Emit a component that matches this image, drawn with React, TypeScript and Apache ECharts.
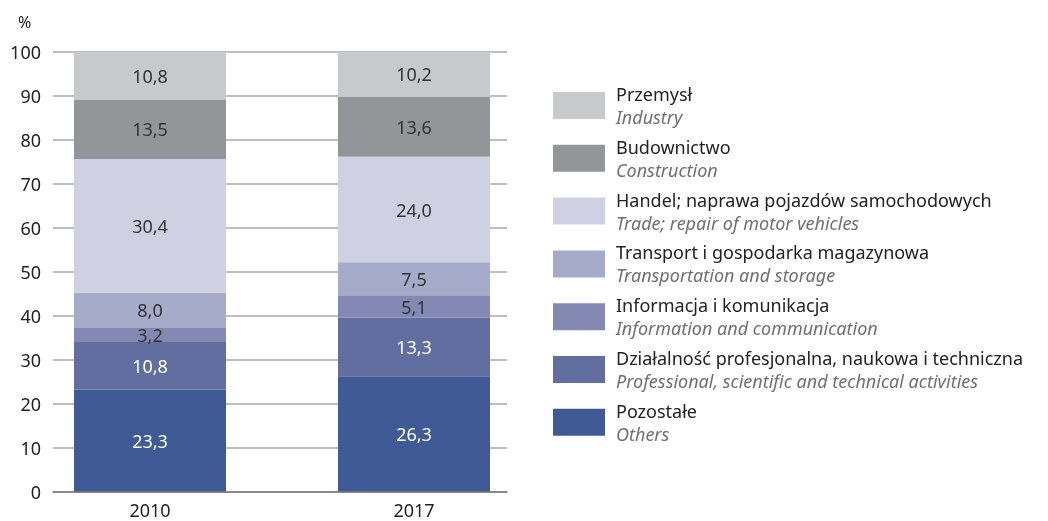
import React, { useEffect, useRef } from "react";
import * as echarts from "echarts";

const categories = ["2010", "2017"];
const yTicks = [0, 10, 20, 30, 40, 50, 60, 70, 80, 90, 100];

// bottom-to-top stacking order
const seriesNamesPl = [
  "Pozostałe",
  "Działalność profesjonalna, naukowa i techniczna",
  "Informacja i komunikacja",
  "Transport i gospodarka magazynowa",
  "Handel; naprawa pojazdów samochodowych",
  "Budownictwo",
  "Przemysł",
];
const seriesNamesEn = [
  "Others",
  "Professional, scientific and technical activities",
  "Information and communication",
  "Transportation and storage",
  "Trade; repair of motor vehicles",
  "Construction",
  "Industry",
];
const seriesColors = ["#3f5a94", "#616e9f", "#8389b2", "#a6abc9", "#cfd1e3", "#949598", "#c8c9cb"];
const labelColors = ["#ffffff", "#ffffff", "#333333", "#333333", "#333333", "#333333", "#333333"];

const pozostale = [23.3, 26.3];
const dzialalnosc = [10.8, 13.3];
const informacja = [3.2, 5.1];
const transport = [8.0, 7.5];
const handel = [30.4, 24.0];
const budownictwo = [13.5, 13.6];
const przemysl = [10.8, 10.2];
const seriesValues = [pozostale, dzialalnosc, informacja, transport, handel, budownictwo, przemysl];

const FONT = "'Noto Sans', sans-serif";

export default function App() {
  const ref = useRef<HTMLDivElement>(null);
  useEffect(() => {
    if (!ref.current) return;
    const chart = echarts.init(ref.current, undefined, { renderer: "svg" });

    const legendGraphics: any[] = [];
    const order = [6, 5, 4, 3, 2, 1, 0];
    order.forEach((si, i) => {
      const top = 92 + i * 52.8;
      legendGraphics.push({
        type: "rect",
        shape: { x: 553, y: top, width: 52, height: 27 },
        style: { fill: seriesColors[si] },
      });
      legendGraphics.push({
        type: "text",
        x: 616,
        y: top + 13.5,
        style: {
          text: `{a|${seriesNamesPl[si]}}\n{b|${seriesNamesEn[si]}}`,
          verticalAlign: "middle",
          rich: {
            a: { fill: "#222222", fontSize: 18, fontFamily: FONT, lineHeight: 23 },
            b: { fill: "#6f6f6f", fontSize: 18, fontFamily: FONT, fontStyle: "italic", lineHeight: 23 },
          },
        },
      });
    });

    chart.setOption({
      animation: false,
      textStyle: { fontFamily: FONT },
      grid: [
        { left: 53, width: 454, top: 52, bottom: 29 },
        { left: 18, width: 528, top: 52, bottom: 29 },
      ],
      xAxis: [
        {
          gridIndex: 0,
          type: "category",
          data: ["", ""],
          z: 5,
          axisLine: { show: true, lineStyle: { color: "#7a7a7a", width: 1.5 } },
          axisTick: { show: false },
          axisLabel: { show: false },
        },
        {
          gridIndex: 1,
          type: "category",
          data: categories,
          axisLine: { show: false },
          axisTick: { show: false },
          axisLabel: { color: "#222222", fontSize: 18, fontFamily: FONT, margin: 9 },
        },
      ],
      yAxis: [
        {
          gridIndex: 0,
          type: "value",
          min: yTicks[0],
          max: yTicks[yTicks.length - 1],
          interval: 10,
          axisLine: { show: false },
          axisTick: { show: false },
          axisLabel: { color: "#222222", fontSize: 18, fontFamily: FONT, margin: 12 },
          splitLine: { show: true, lineStyle: { color: "#a8a8a8", width: 1.5 } },
        },
        {
          gridIndex: 1,
          type: "value",
          min: 0,
          max: 100,
          show: false,
          splitLine: { show: false },
        },
      ],
      series: seriesValues.map((vals, si) => ({
        name: seriesNamesPl[si],
        type: "bar",
        stack: "total",
        xAxisIndex: 1,
        yAxisIndex: 1,
        barWidth: 152,
        data: vals,
        itemStyle: { color: seriesColors[si] },
        label: {
          show: true,
          position: "inside",
          color: labelColors[si],
          fontSize: 18,
          fontFamily: FONT,
          formatter: (p: any) => Number(p.value).toFixed(1).replace(".", ","),
        },
      })),
      graphic: [
        {
          type: "text",
          x: 18,
          y: 22,
          style: { text: "%", fill: "#222222", font: `16px ${FONT}`, verticalAlign: "middle" },
        },
        ...legendGraphics,
      ],
    });
    return () => chart.dispose();
  }, []);
  return (
    <div
      ref={ref}
      style={{ position: "fixed", left: 0, top: 0, width: 1048, height: 521 }}
    />
  );
}
